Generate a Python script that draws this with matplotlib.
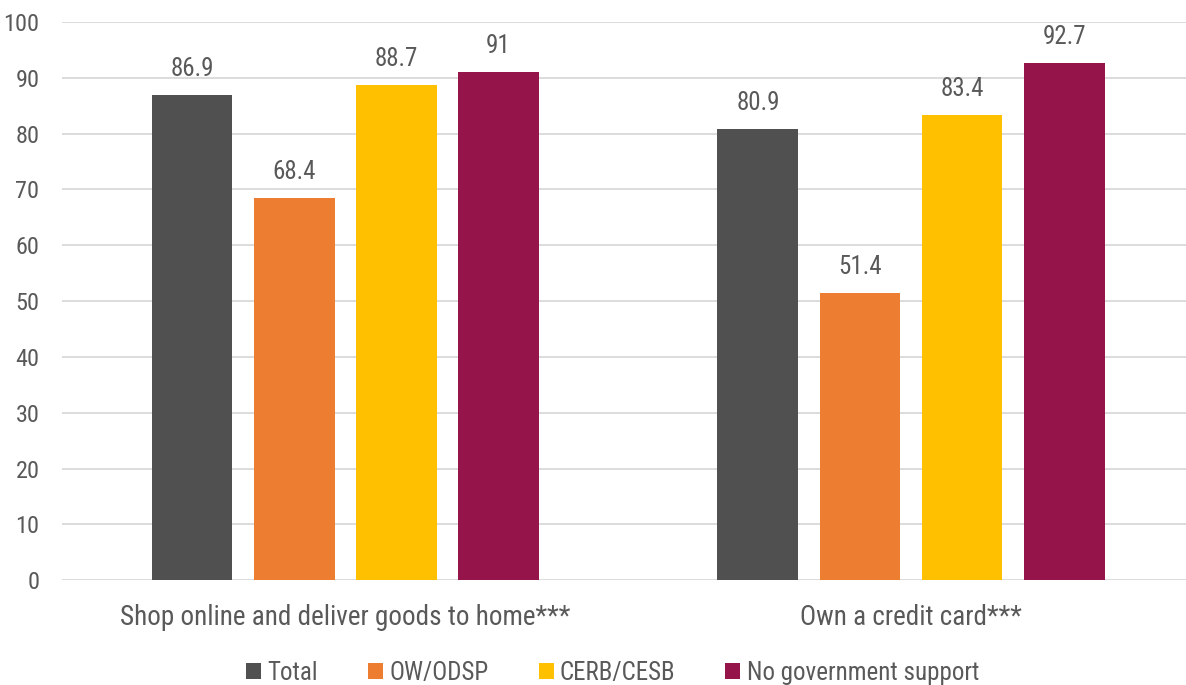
import matplotlib
matplotlib.use("Agg")
import matplotlib.pyplot as plt
import numpy as np

categories = ["Shop online and deliver goods to home***", "Own a credit card***"]
series_names = ["Total", "OW/ODSP", "CERB/CESB", "No government support"]
total = [86.9, 80.9]
ow_odsp = [68.4, 51.4]
cerb_cesb = [88.7, 83.4]
no_support = [91, 92.7]
colors = ["#505050", "#ED7D31", "#FFC000", "#95154B"]

plt.rcParams['font.family'] = ['Roboto Condensed', 'DejaVu Sans']
plt.rcParams['font.stretch'] = 'condensed'
text_color = "#595959"

fig = plt.figure(figsize=(11.86, 6.85), dpi=100)
ax = fig.add_axes([0.052, 0.153, 0.948, 0.815])

x = np.arange(len(categories))
width = 0.143
step = 0.1804
offsets = (np.arange(4) - 1.5) * step
for vals, name, col, off in zip([total, ow_odsp, cerb_cesb, no_support], series_names, colors, offsets):
    bars = ax.bar(x + off, vals, width, color=col, label=name, zorder=3)
    labels = [f"{v:g}" for v in vals]
    ax.bar_label(bars, labels=labels, padding=10, fontsize=18, color=text_color)

ax.set_xlim(-0.501, 1.486)
ax.set_ylim(0, 100)
ax.set_yticks(range(0, 101, 10))
ax.set_xticks(x)
ax.set_xticklabels(categories)
ax.tick_params(axis='x', length=0, labelsize=19.5, labelcolor=text_color, pad=17)
ax.tick_params(axis='y', length=0, labelsize=17.5, labelcolor=text_color, pad=16)
ax.grid(axis='y', color="#D9D9D9", linewidth=1.3, zorder=0)
for s in ax.spines.values():
    s.set_visible(False)

ax.legend(loc='upper center', bbox_to_anchor=(0.49, -0.117), ncol=4, frameon=False,
          fontsize=18, labelcolor=text_color, handlelength=0.6, handleheight=0.6,
          handletextpad=0.25, columnspacing=2.0, borderaxespad=0.2)

fig.savefig("out.png", dpi=100)
